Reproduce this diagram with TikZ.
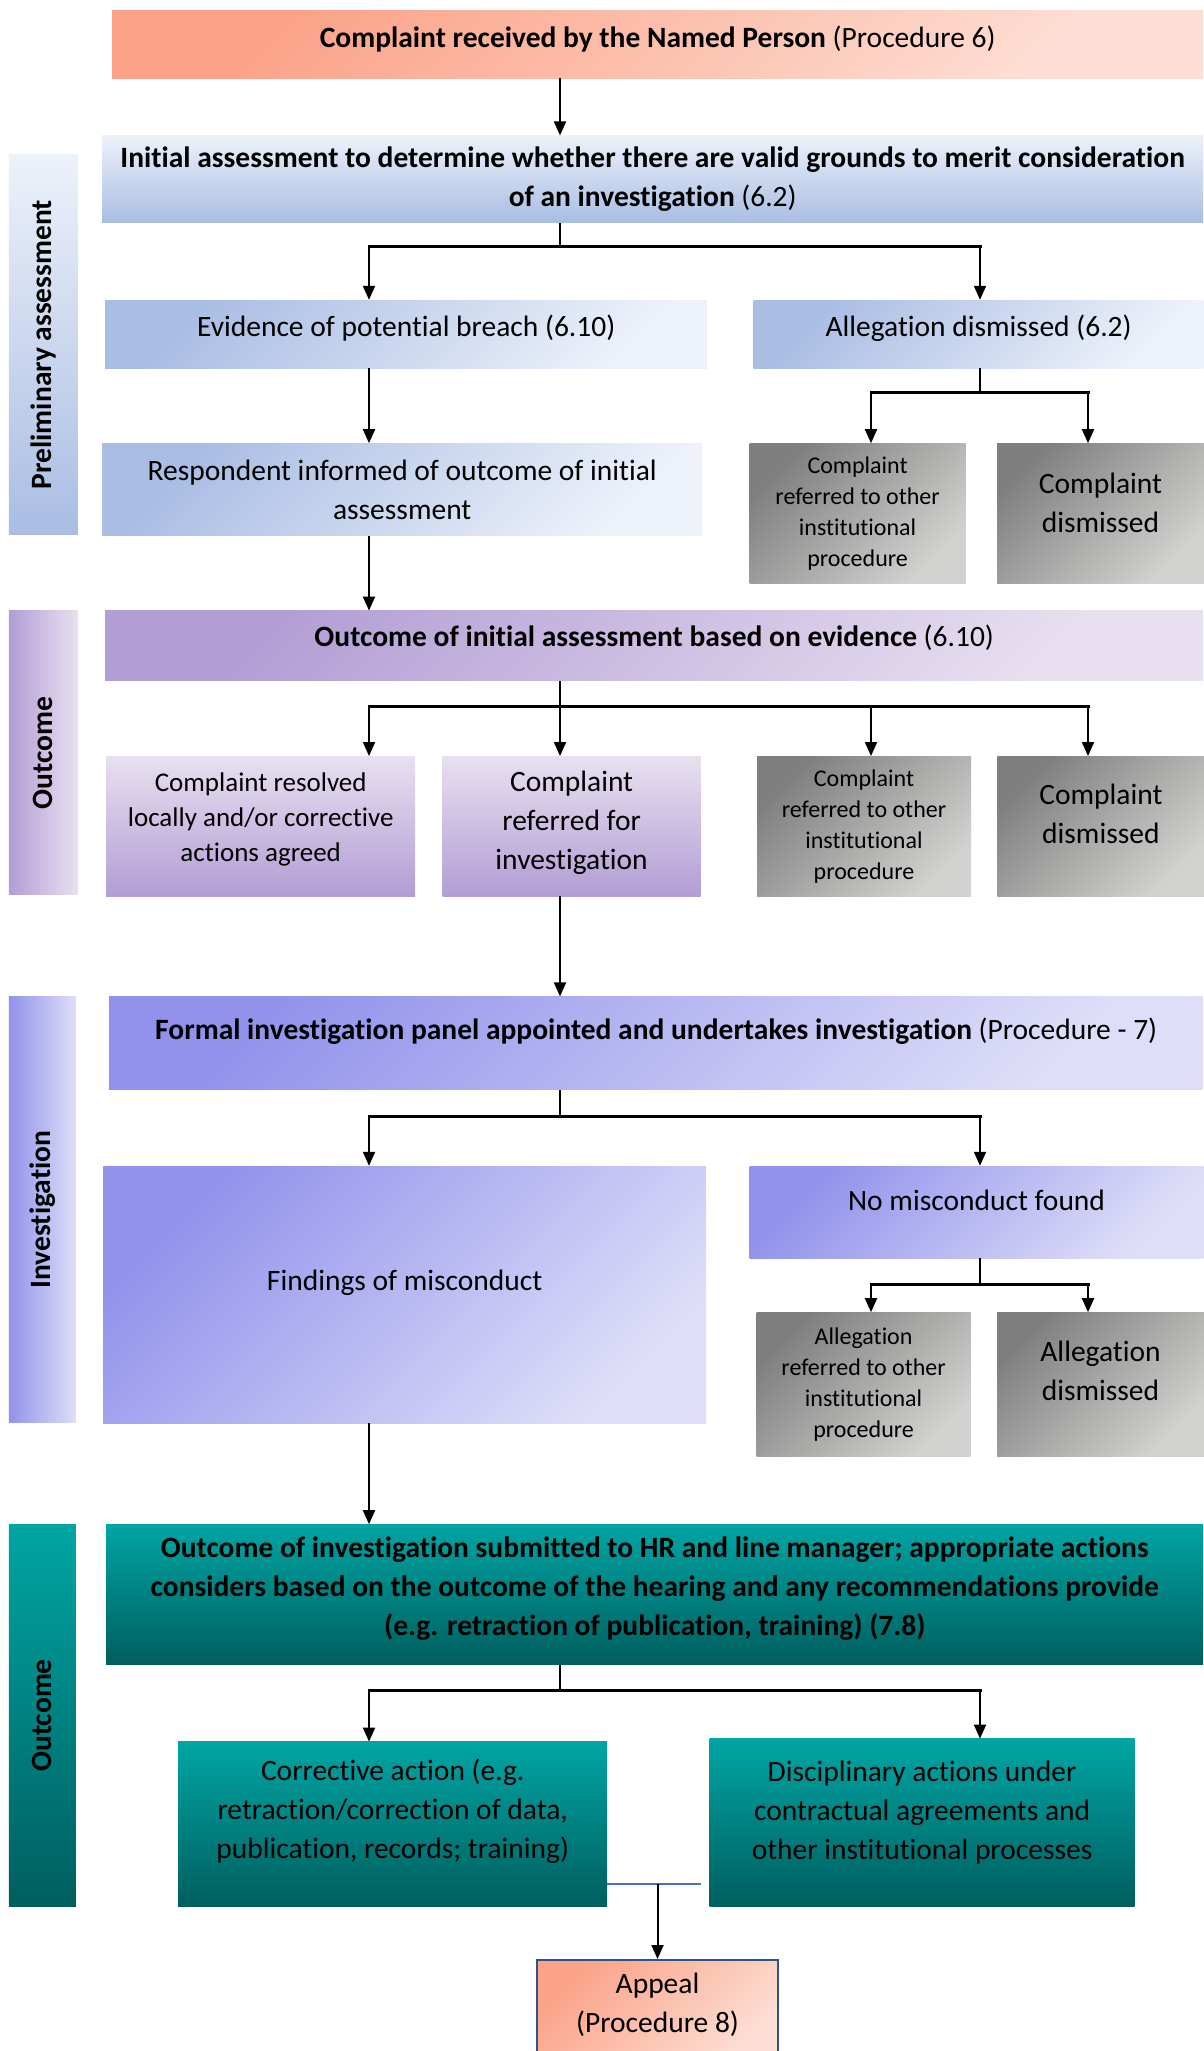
\documentclass[tikz,border=0pt]{standalone}
\usepackage{fontspec}
\setmainfont{Carlito}[Ligatures=NoCommon]
\usepackage{xcolor}
\usetikzlibrary{positioning,arrows.meta}

\definecolor{blueD}{HTML}{A9BDE3}
\definecolor{blueL}{HTML}{EDF1FA}
\definecolor{purD}{HTML}{B29DD4}
\definecolor{purL}{HTML}{E8E0F0}
\definecolor{greyD}{HTML}{7F7F7F}
\definecolor{greyL}{HTML}{D2D2D0}
\definecolor{periD}{HTML}{9292EC}
\definecolor{periL}{HTML}{DEDEF8}
\definecolor{tealL}{HTML}{00A5A4}
\definecolor{tealD}{HTML}{005E5E}
\definecolor{salD}{HTML}{FBA287}
\definecolor{salL}{HTML}{FDDED4}
\definecolor{appealblue}{HTML}{2F528F}
\definecolor{linkblue}{HTML}{4472C4}

\begin{document}
\begin{tikzpicture}[
    x=1pt, y=1pt,
    box/.style={rectangle, align=center, inner sep=3pt, font=\fontsize{29.5}{39}\selectfont},
    diag/.style={box, top color=#1D, bottom color=#1L, shading angle=45},
    vert/.style={box, top color=#1L, bottom color=#1D},
    small/.style={font=\fontsize{24}{31}\selectfont},
    lift/.style={text depth=#1},
    bandtext/.style={rotate=90, font=\bfseries\fontsize{29.5}{33}\selectfont},
    stem/.style={line width=2pt},
    bar/.style={line width=3pt, line cap=rect},
    arr/.style={line width=2pt, -{Triangle[length=14pt, width=12pt]}},
    link/.style={line width=1.5pt, draw=linkblue}
]
\path[fill=white] (0,0) rectangle (1203,-2051);
\useasboundingbox (0,0) rectangle (1203,-2051);

% Preliminary assessment
\node[diag=sal, lift=15pt, minimum width=1091pt, minimum height=68pt, anchor=north west] (received) at (112,-10) {\textbf{Complaint received by the Named Person} (Procedure 6)};
\node[vert=blue, minimum width=1101pt, minimum height=87pt, below right=57pt and -10pt of received.south west] (initial) {\textbf{Initial assessment to determine whether there are valid grounds to merit consideration}\\\textbf{of an investigation} (6.2)};
\node[rectangle, top color=blueL, bottom color=blueD, minimum width=69pt, minimum height=380pt, below left=19pt and 24pt of initial.north west] (prelim) {};
\node[bandtext] (prelimtext) at (prelim) {Preliminary assessment};
\node[diag=blue, lift=17pt, minimum width=602pt, minimum height=68pt, below right=77pt and 3pt of initial.south west] (breach) {Evidence of potential breach (6.10)};
\node[diag=blue, lift=17pt, minimum width=450pt, minimum height=68pt, right=46pt of breach] (dismissed) {Allegation dismissed (6.2)};
\node[diag=blue, minimum width=600pt, minimum height=92pt, below right=75pt and -3pt of breach.south west] (informed) {Respondent informed of outcome of initial\\assessment};
\node[diag=grey, small, minimum width=216pt, minimum height=140pt, below right=75pt and -4pt of dismissed.south west] (referA) {Complaint\\referred to other\\institutional\\procedure};
\node[diag=grey, lift=22pt, minimum width=207pt, minimum height=140pt, right=31pt of referA] (dismissA) {Complaint\\dismissed};

% Outcome of initial assessment
\node[diag=pur, lift=20pt, minimum width=1098pt, minimum height=70pt, below right=75pt and 3pt of informed.south west] (assessed) {\textbf{Outcome of initial assessment based on evidence} (6.10)};
\node[rectangle, left color=purD, right color=purL, minimum width=69pt, minimum height=284pt, below left=0pt and 27pt of assessed.north west] (outcomeA) {};
\node[bandtext] (outcomeAtext) at (outcomeA) {Outcome};
\node[vert=pur, font=\fontsize{27}{35}\selectfont, lift=18pt, minimum width=309pt, minimum height=140pt, below right=75pt and 1pt of assessed.south west] (resolved) {Complaint resolved\\locally and/or corrective\\actions agreed};
\node[vert=pur, lift=11pt, minimum width=258pt, minimum height=140pt, right=27pt of resolved] (referred) {Complaint\\referred for\\investigation};
\node[diag=grey, small, minimum width=214pt, minimum height=140pt, right=56pt of referred] (referB) {Complaint\\referred to other\\institutional\\procedure};
\node[diag=grey, lift=24pt, minimum width=207pt, minimum height=140pt, right=26pt of referB] (dismissB) {Complaint\\dismissed};

% Investigation
\node[diag=peri, lift=29pt, minimum width=1094pt, minimum height=93pt, below right=100pt and 3pt of resolved.south west] (panel) {\textbf{Formal investigation panel appointed and undertakes investigation} (Procedure - 7)};
\node[rectangle, left color=periD, right color=periL, minimum width=67pt, minimum height=426pt, below left=0pt and 33pt of panel.north west] (investig) {};
\node[bandtext] (investigtext) at (investig) {Investigation};
\node[diag=peri, lift=28pt, minimum width=603pt, minimum height=257pt, below right=76pt and -6pt of panel.south west] (findings) {Findings of misconduct};
\node[diag=peri, lift=24pt, minimum width=454pt, minimum height=92pt, right=43pt of findings.north east, anchor=north west] (nomis) {No misconduct found};
\node[diag=grey, small, minimum width=214pt, minimum height=144pt, below right=54pt and 7pt of nomis.south west] (referC) {Allegation\\referred to other\\institutional\\procedure};
\node[diag=grey, lift=27pt, minimum width=207pt, minimum height=144pt, right=26pt of referC] (dismissC) {Allegation\\dismissed};

% Outcome of investigation
\node[vert=teal, lift=17pt, minimum width=1097pt, minimum height=140pt, below right=101pt and 3pt of findings.south west] (submitted) {\textbf{Outcome of investigation submitted to HR and line manager; appropriate actions}\\\textbf{considers based on the outcome of the hearing and any recommendations provide}\\\textbf{(e.g. retraction of publication, training) (7.8)}};
\node[rectangle, top color=tealL, bottom color=tealD, minimum width=67pt, minimum height=382pt, below left=0pt and 30pt of submitted.north west] (outcomeB) {};
\node[bandtext] (outcomeBtext) at (outcomeB) {Outcome};
\node[vert=teal, lift=31pt, minimum width=429pt, minimum height=165pt, below right=77pt and 72pt of submitted.south west] (corrective) {Corrective action (e.g.\\retraction/correction of data,\\publication, records; training)};
\node[vert=teal, lift=26pt, minimum width=425pt, minimum height=168pt, right=102pt of corrective.south east, anchor=south west] (disciplinary) {Disciplinary actions under\\contractual agreements and\\other institutional processes};
\node[diag=sal, lift=15pt, draw=appealblue, line width=2pt, minimum width=241pt, minimum height=100pt, below right=52pt and 358pt of corrective.south west] (appeal) {Appeal\\(Procedure 8)};

% Connectors
\coordinate (xa) at (369,0);
\coordinate (xb) at (560,0);
\coordinate (xc) at (871,0);
\coordinate (xd) at (980,0);
\coordinate (xe) at (1088,0);

\draw[arr] (received.south -| xb) -- (initial.north -| xb);
\draw[stem] (initial.south -| xb) -- ++(0,-24) coordinate (j1);
\draw[bar] (j1 -| xa) -- (j1 -| xd);
\draw[arr] (j1 -| xa) -- (breach.north -| xa);
\draw[arr] (j1 -| xd) -- (dismissed.north -| xd);
\draw[arr] (breach.south -| xa) -- (informed.north -| xa);
\draw[stem] (dismissed.south -| xd) -- ++(0,-24) coordinate (j2);
\draw[bar] (j2 -| xc) -- (j2 -| xe);
\draw[arr] (j2 -| xc) -- (referA.north -| xc);
\draw[arr] (j2 -| xe) -- (dismissA.north -| xe);
\draw[arr] (informed.south -| xa) -- (assessed.north -| xa);

\draw[stem] (assessed.south -| xb) -- ++(0,-25) coordinate (j3);
\draw[bar] (j3 -| xa) -- (j3 -| xe);
\draw[arr] (j3 -| xa) -- (resolved.north -| xa);
\draw[arr] (j3 -| xb) -- (referred.north -| xb);
\draw[arr] (j3 -| xc) -- (referB.north -| xc);
\draw[arr] (j3 -| xe) -- (dismissB.north -| xe);
\draw[arr] (referred.south -| xb) -- (panel.north -| xb);

\draw[stem] (panel.south -| xb) -- ++(0,-27) coordinate (j4);
\draw[bar] (j4 -| xa) -- (j4 -| xd);
\draw[arr] (j4 -| xa) -- (findings.north -| xa);
\draw[arr] (j4 -| xd) -- (nomis.north -| xd);
\draw[stem] (nomis.south -| xd) -- ++(0,-26) coordinate (j5);
\draw[bar] (j5 -| xc) -- (j5 -| xe);
\draw[arr] (j5 -| xc) -- (referC.north -| xc);
\draw[arr] (j5 -| xe) -- (dismissC.north -| xe);
\draw[arr] (findings.south -| xa) -- (submitted.north -| xa);

\draw[stem] (submitted.south -| xb) -- ++(0,-26) coordinate (j6);
\draw[bar] (j6 -| xa) -- (j6 -| xd);
\draw[arr] (j6 -| xa) -- (corrective.north -| xa);
\draw[arr] (j6 -| xd) -- (disciplinary.north -| xd);
\draw[link] ([yshift=23pt]corrective.south east) -- ++(94,0) coordinate (j7);
\draw[arr] ([yshift=23pt]corrective.south east -| appeal.north) -- (appeal.north);

\end{tikzpicture}
\end{document}
